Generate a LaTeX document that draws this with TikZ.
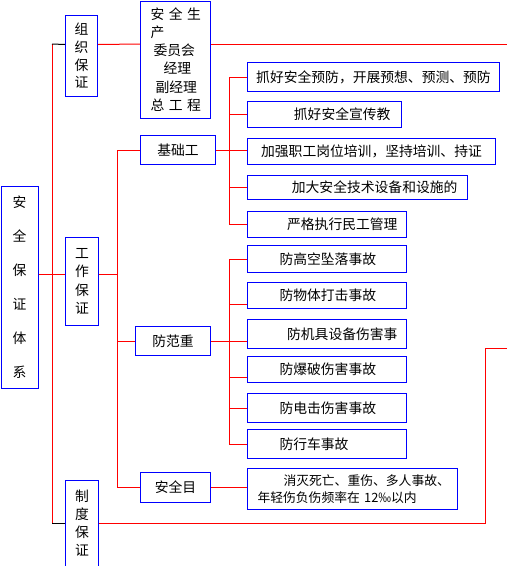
\documentclass[tikz,border=0pt]{standalone}
\usepackage{fontspec}
\setmainfont{Noto Sans CJK SC}
\definecolor{boxblue}{RGB}{0,0,255}
\definecolor{linered}{RGB}{255,0,0}
\tikzset{
  box/.style={draw=boxblue, line width=1pt, anchor=north west, inner sep=0pt,
    font=\fontsize{13.8}{18}\selectfont},
  leftitem/.style={box, text width=95pt, inner xsep=32pt, align=left},
  conn/.style={draw=linered, line width=1pt},
  stub/.style={draw=black, line width=1pt}
}
\begin{document}
\begin{tikzpicture}[x=1pt, y=-1pt]
        \useasboundingbox (0,0) rectangle (507,566);

        % Main column
        \node[box, minimum width=37pt, minimum height=202pt, align=center,
          font=\fontsize{13.8}{34}\selectfont] (tx) at (0.5,186) {安\\全\\保\\证\\体\\系};
        \node[box, minimum width=32pt, minimum height=81pt, align=center,
          font=\fontsize{13.8}{17.7}\selectfont] (zz) at (65,15) {组\\织\\保\\证};
        \node[box, minimum width=33pt, minimum height=88pt, align=center,
          font=\fontsize{13.8}{18.5}\selectfont] (gz) at (65,237) {工\\作\\保\\证};
        \node[box, minimum width=33pt, minimum height=86pt, align=center,
          font=\fontsize{13.8}{18}\selectfont] (zd) at (65,480) {制\\度\\保\\证};

        % Second column
        \node[box, text width=56pt, inner xsep=7pt, align=left, minimum height=117pt,
          font=\fontsize{13.8}{18.3}\selectfont] (wyh) at (140,0.5)
          {\mbox{\hspace*{3pt}安\hspace{4.5pt}全\hspace{4.5pt}生}\\\mbox{\hspace*{3pt}产}\\\mbox{\hspace*{6pt}委员会}\\\mbox{\hspace*{16pt}经理}\\\mbox{\hspace*{8pt}副经理}\\\mbox{\hspace*{3pt}总\hspace{4.5pt}工\hspace{4.5pt}程}};
        \node[box, minimum width=75pt, minimum height=29pt] (jc) at (140,135) {基础工};
        \node[box, minimum width=75pt, minimum height=29pt] (ff) at (135,326) {防范重};
        \node[box, minimum width=70pt, minimum height=30pt] (mb) at (140,472) {安全目};

        % Basic work items
        \node[box, minimum width=252pt, minimum height=29pt] (b1) at (247,62) {抓好安全预防，开展预想、预测、预防};
        \node[box, text width=132pt, inner xsep=11pt, align=right, minimum height=26pt] (b2) at (247,101) {抓好安全宣传教};
        \node[box, minimum width=248pt, minimum height=26pt] (b3) at (247,138) {加强职工岗位培训，坚持培训、持证};
        \node[box, text width=200pt, inner xsep=10pt, align=right, minimum height=24pt] (b4) at (247,175) {加大安全技术设备和设施的};
        \node[box, text width=141pt, inner xsep=9pt, align=right, minimum height=26pt] (b5) at (247,211) {严格执行民工管理};

        % Prevention items
        \node[leftitem, minimum height=27pt] (b6) at (247,245) {防高空坠落事故};
        \node[leftitem, minimum height=26pt] (b7) at (247,282) {防物体打击事故};
        \node[box, text width=141pt, inner xsep=9pt, align=right, minimum height=29pt] (b8) at (247,319) {防机具设备伤害事};
        \node[leftitem, minimum height=26pt] (b9) at (247,356) {防爆破伤害事故};
        \node[leftitem, minimum height=29pt] (b10) at (247,393) {防电击伤害事故};
        \node[leftitem, minimum height=29pt] (b11) at (247,429) {防行车事故};

        % Target
        \node[box, text width=190pt, inner xsep=10pt, align=left, minimum height=41pt,
          font=\fontsize{12.8}{17}\selectfont] (b12) at (247,468)
          {\hspace*{26pt}消灭死亡、重伤、多人事故、\\年轻伤负伤频率在 12‰以内};

        % Bus positions
        \coordinate (bustop) at (52,44);
        \coordinate (xmid) at (117,0);
        \coordinate (xright) at (229,0);
        \coordinate (turn) at (485,348);
        \coordinate (exit) at (507,348);
        \coordinate (topexit) at (507,44);
        \coordinate (gzin) at ([yshift=7pt]gz.west);
        \coordinate (gzout) at ([yshift=7pt]gz.east);
        \coordinate (b7in) at ([yshift=-9pt]b7.west);
        \coordinate (b9in) at ([yshift=-8pt]b9.west);

        % Main bus
        \draw[conn] (bustop) -- (bustop |- zd.west);
        \draw[stub] (bustop) -- ([yshift=11.5pt]zz.west);
        \draw[stub] (bustop |- zd.west) -- (zd.west);
        \draw[conn] ([yshift=13pt]tx.east) -- (gzin);
        \draw[conn] ([yshift=11.5pt]zz.east) -- (wyh.west |- topexit);
        \draw[conn] (wyh.east |- topexit) -- (topexit);
        \draw[conn] (zd.east) -- (turn |- zd.east) -- (turn) -- (exit);

        % Work bus
        \draw[conn] (gzout) -- (xmid |- gzout);
        \draw[conn] (jc.west) -- (xmid |- jc.west) -- (xmid |- mb.west) -- (mb.west);
        \draw[conn] (xmid |- ff.west) -- (ff.west);
        \draw[conn] (mb.east) -- (b12.west |- mb.east);

        % Basic work bus
        \draw[conn] (xright |- b1.west) -- (xright |- b5.west);
        \draw[conn] (jc.east) -- (b3.west |- jc.east);
        \foreach \n in {b1,b2,b4,b5}
          \draw[conn] (xright |- \n.west) -- (\n.west);

        % Prevention bus
        \draw[conn] (xright |- b6.west) -- (xright |- b11.west);
        \draw[conn] (ff.east) -- (b8.west |- ff.east);
        \draw[conn] (xright |- b7in) -- (b7in);
        \draw[conn] (xright |- b9in) -- (b9in);
        \foreach \n in {b6,b10,b11}
          \draw[conn] (xright |- \n.west) -- (\n.west);

    \end{tikzpicture}
\end{document}
